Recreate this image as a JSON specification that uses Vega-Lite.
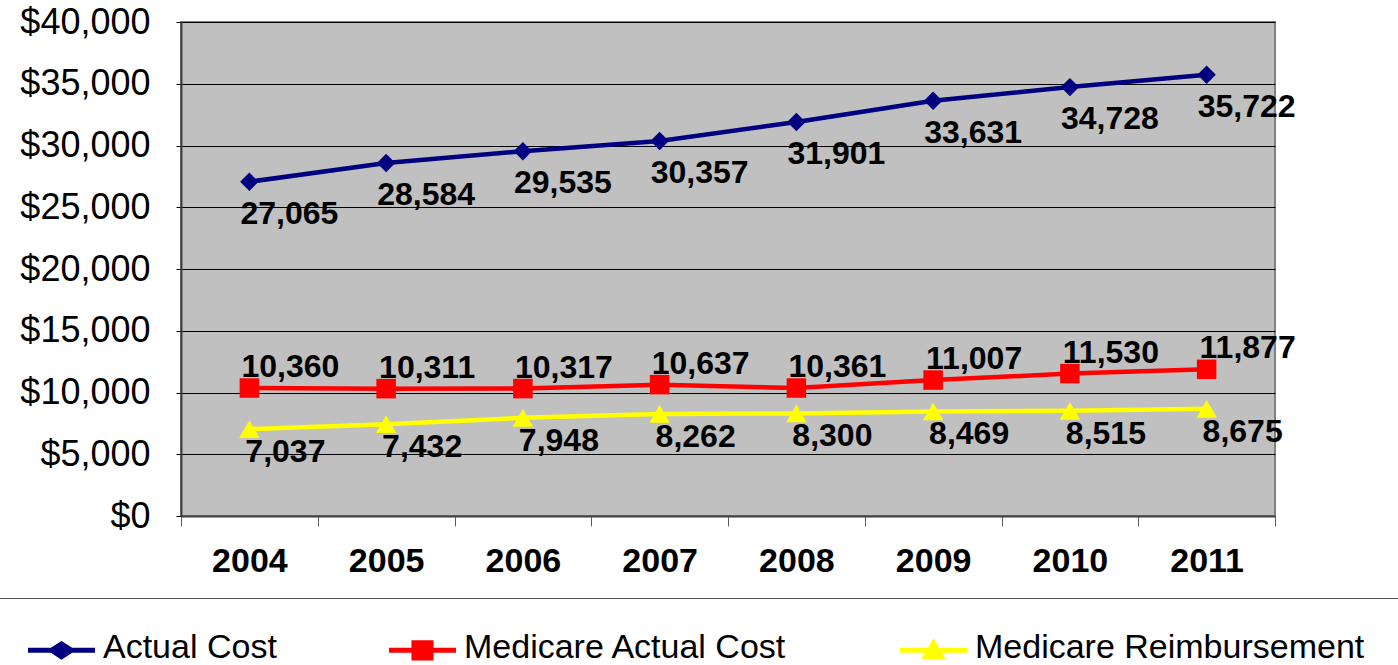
{
  "$schema": "https://vega.github.io/schema/vega-lite/v6.json",
  "width": 1094,
  "height": 494,
  "autosize": "none",
  "padding": {"left": 181, "top": 22, "right": 123, "bottom": 149},
  "background": "white",
  "config": {
    "font": "Liberation Sans",
    "view": {"fill": "#C0C0C0", "stroke": "#808080", "strokeWidth": 2}
  },
  "data": {
    "values": [
      {"year": "2004", "series": "Actual Cost", "cost": 27065},
      {"year": "2005", "series": "Actual Cost", "cost": 28584},
      {"year": "2006", "series": "Actual Cost", "cost": 29535},
      {"year": "2007", "series": "Actual Cost", "cost": 30357},
      {"year": "2008", "series": "Actual Cost", "cost": 31901},
      {"year": "2009", "series": "Actual Cost", "cost": 33631},
      {"year": "2010", "series": "Actual Cost", "cost": 34728},
      {"year": "2011", "series": "Actual Cost", "cost": 35722},
      {"year": "2004", "series": "Medicare Actual Cost", "cost": 10360},
      {"year": "2005", "series": "Medicare Actual Cost", "cost": 10311},
      {"year": "2006", "series": "Medicare Actual Cost", "cost": 10317},
      {"year": "2007", "series": "Medicare Actual Cost", "cost": 10637},
      {"year": "2008", "series": "Medicare Actual Cost", "cost": 10361},
      {"year": "2009", "series": "Medicare Actual Cost", "cost": 11007},
      {"year": "2010", "series": "Medicare Actual Cost", "cost": 11530},
      {"year": "2011", "series": "Medicare Actual Cost", "cost": 11877},
      {"year": "2004", "series": "Medicare Reimbursement", "cost": 7037},
      {"year": "2005", "series": "Medicare Reimbursement", "cost": 7432},
      {"year": "2006", "series": "Medicare Reimbursement", "cost": 7948},
      {"year": "2007", "series": "Medicare Reimbursement", "cost": 8262},
      {"year": "2008", "series": "Medicare Reimbursement", "cost": 8300},
      {"year": "2009", "series": "Medicare Reimbursement", "cost": 8469},
      {"year": "2010", "series": "Medicare Reimbursement", "cost": 8515},
      {"year": "2011", "series": "Medicare Reimbursement", "cost": 8675}
    ]
  },
  "encoding": {
    "x": {
      "field": "year",
      "type": "ordinal",
      "scale": {"paddingInner": 0, "paddingOuter": 0},
      "axis": {
        "title": null,
        "labelAngle": 0,
        "labelFontSize": 34,
        "labelFontWeight": "bold",
        "labelColor": "black",
        "labelPadding": 18,
        "tickBand": "extent",
        "tickSize": 10,
        "tickColor": "#606060",
        "domainColor": "#404040",
        "domainWidth": 2
      }
    },
    "y": {
      "field": "cost",
      "type": "quantitative",
      "scale": {"domain": [0, 40000]},
      "axis": {
        "title": null,
        "values": [0, 5000, 10000, 15000, 20000, 25000, 30000, 35000, 40000],
        "format": "$,.0f",
        "labelFontSize": 36,
        "labelColor": "black",
        "labelPadding": 26,
        "tickSize": 5,
        "tickColor": "black",
        "domainColor": "#404040",
        "domainWidth": 2,
        "grid": true,
        "gridColor": "black",
        "gridWidth": 1,
        "gridOpacity": 1
      }
    },
    "color": {
      "field": "series",
      "type": "nominal",
      "scale": {
        "domain": ["Actual Cost", "Medicare Actual Cost", "Medicare Reimbursement"],
        "range": ["#000080", "#FF0000", "#FFFF00"]
      },
      "legend": {
        "title": null,
        "orient": "none",
        "legendX": -188,
        "legendY": 576,
        "direction": "horizontal",
        "padding": 35,
        "strokeColor": "#505050",
        "fillColor": "white",
        "labelFontSize": 34,
        "labelColor": "black",
        "labelLimit": 0,
        "labelOffset": 8,
        "columnPadding": 112,
        "symbolSize": 4489,
        "symbolStrokeWidth": 0,
        "symbolOpacity": 1,
        "encode": {
          "labels": {"update": {"dy": {"value": -19}}},
          "symbols": {
            "update": {
              "fill": {"scale": "color", "field": "value"},
              "strokeWidth": {"value": 0},
              "shape": {
                "signal": "datum.value === 'Actual Cost' ? 'M-1,-0.565L-0.32,-0.565L0,-0.77L0.32,-0.565L1,-0.565L1,-0.415L0.32,-0.415L0,-0.21L-0.32,-0.415L-1,-0.415Z' : datum.value === 'Medicare Actual Cost' ? 'M-1,-0.565L-0.33,-0.565L-0.33,-0.79L0.33,-0.79L0.33,-0.565L1,-0.565L1,-0.415L0.33,-0.415L0.33,-0.19L-0.33,-0.19L-0.33,-0.415L-1,-0.415Z' : 'M-1,-0.565L1,-0.565L1,-0.415L-1,-0.415Z M0,-0.85L0.36,-0.23L-0.36,-0.23Z'"
              }
            }
          }
        }
      }
    }
  },
  "layer": [
    {"mark": {"type": "line", "strokeWidth": 4.5}},
    {
      "transform": [{"filter": "datum.series === 'Actual Cost'"}],
      "mark": {"type": "point", "filled": true, "opacity": 1, "size": 340, "shape": "diamond"}
    },
    {
      "transform": [{"filter": "datum.series === 'Medicare Actual Cost'"}],
      "mark": {"type": "point", "filled": true, "opacity": 1, "size": 380, "shape": "square"}
    },
    {
      "transform": [{"filter": "datum.series === 'Medicare Reimbursement'"}],
      "mark": {"type": "point", "filled": true, "opacity": 1, "size": 420, "shape": "triangle-up"}
    },
    {
      "transform": [{"filter": "datum.series === 'Actual Cost'"}],
      "mark": {"type": "text", "fontSize": 32, "fontWeight": "bold", "dx": 40, "dy": 32},
      "encoding": {"text": {"field": "cost", "type": "quantitative", "format": ",.0f"}, "color": {"value": "black"}}
    },
    {
      "transform": [{"filter": "datum.series === 'Medicare Actual Cost'"}],
      "mark": {"type": "text", "fontSize": 32, "fontWeight": "bold", "dx": 41, "dy": -21},
      "encoding": {"text": {"field": "cost", "type": "quantitative", "format": ",.0f"}, "color": {"value": "black"}}
    },
    {
      "transform": [{"filter": "datum.series === 'Medicare Reimbursement'"}],
      "mark": {"type": "text", "fontSize": 32, "fontWeight": "bold", "dx": 36, "dy": 23},
      "encoding": {"text": {"field": "cost", "type": "quantitative", "format": ",.0f"}, "color": {"value": "black"}}
    }
  ]
}
